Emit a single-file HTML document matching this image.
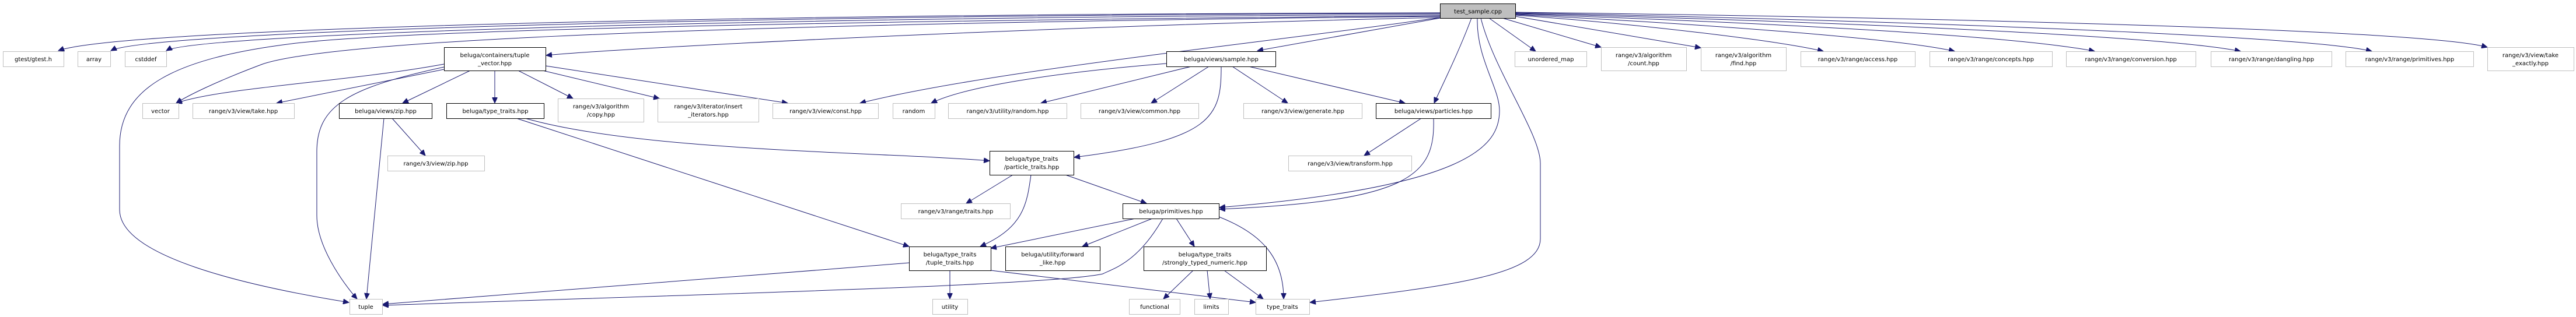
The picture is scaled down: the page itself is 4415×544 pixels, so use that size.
<!DOCTYPE html>
<html><head><meta charset="utf-8"><style>
html,body{margin:0;padding:0;background:#fff;}
svg{display:block}
text{font-family:"DejaVu Sans","Liberation Sans",sans-serif;font-size:10px;fill:#000}
.e{fill:none;stroke:#191970;stroke-width:1}
.x{fill:#fff;stroke:#bfbfbf}
.i{fill:#fff;stroke:#000}
</style></head><body>
<svg width="4415" height="544" viewBox="0 0 4415 544" xmlns="http://www.w3.org/2000/svg">
<defs><marker id="a" markerUnits="userSpaceOnUse" markerWidth="11" markerHeight="9" refX="10" refY="4.5" orient="auto"><path d="M0,0 L10,4.5 L0,9 Z" fill="#191970" stroke="#191970"/></marker></defs>
<g marker-end="url(#a)">
<path class="e" d="M2468,22 C1200,24 200,50 100,87"/>
<path class="e" d="M2468,23 C1200,26 250,55 190,87"/>
<path class="e" d="M2468,25 C1200,30 330,60 285,87"/>
<path class="e" d="M2468,27 C1500,35 700,50 500,75 C300,100 205,150 205,250 L205,360 C205,440 420,490 598,519"/>
<path class="e" d="M2468,28 C1500,38 600,60 450,110 C370,140 320,165 302,177"/>
<path class="e" d="M2468,30 C1800,45 1100,80 936,95"/>
<path class="e" d="M2468,30 C2200,70 1700,120 1474,177"/>
<path class="e" d="M2468,31 L2155,87"/>
<path class="e" d="M2522,31 C2500,90 2470,150 2458,177"/>
<path class="e" d="M2532,31 C2530,100 2570,150 2570,190 C2570,250 2520,320 2090,356"/>
<path class="e" d="M2538,31 C2560,120 2640,230 2640,280 L2640,410 C2640,470 2500,490 2245,519"/>
<path class="e" d="M2552,31 L2632,88"/>
<path class="e" d="M2575,31 L2744,81"/>
<path class="e" d="M2597,28 L2915,82"/>
<path class="e" d="M2597,26 C2800,40 3050,70 3125,88"/>
<path class="e" d="M2597,25 C2900,40 3250,65 3350,88"/>
<path class="e" d="M2597,24 C3000,38 3450,60 3590,88"/>
<path class="e" d="M2597,23 C3100,36 3700,60 3840,88"/>
<path class="e" d="M2597,22 C3200,34 3950,60 4065,88"/>
<path class="e" d="M2597,21 C3300,30 4150,50 4263,81"/>
<path class="e" d="M761,110 C600,140 380,150 302,177"/>
<path class="e" d="M761,119 L474,177"/>
<path class="e" d="M761,115 C600,150 543,180 543,260 L543,370 C543,430 600,500 612,513"/>
<path class="e" d="M806,121 L690,177"/>
<path class="e" d="M848,121 L848,177"/>
<path class="e" d="M888,121 L982,169"/>
<path class="e" d="M930,121 L1130,169"/>
<path class="e" d="M935,113 L1350,177"/>
<path class="e" d="M1999,109 C1800,125 1650,150 1596,177"/>
<path class="e" d="M2042,114 L1784,177"/>
<path class="e" d="M2072,114 L1973,177"/>
<path class="e" d="M2112,114 L2207,177"/>
<path class="e" d="M2140,114 L2408,177"/>
<path class="e" d="M2093,114 C2093,200 2080,240 1841,270"/>
<path class="e" d="M2436,203 L2338,267"/>
<path class="e" d="M2457,203 C2460,300 2420,345 2090,359"/>
<path class="e" d="M658,203 L628,513"/>
<path class="e" d="M672,203 L729,267"/>
<path class="e" d="M900,203 C1100,260 1500,260 1696,276"/>
<path class="e" d="M885,203 L1558,423"/>
<path class="e" d="M1736,300 L1656,349"/>
<path class="e" d="M1826,300 L1965,349"/>
<path class="e" d="M1767,300 C1760,350 1755,390 1680,423"/>
<path class="e" d="M1946,375 L1698,426"/>
<path class="e" d="M1975,375 L1855,423"/>
<path class="e" d="M2016,375 L2047,423"/>
<path class="e" d="M1993,375 C1950,450 1910,460 1890,470 C1800,490 1200,505 656,524"/>
<path class="e" d="M2089,372 C2160,400 2200,440 2200,513"/>
<path class="e" d="M1558,451 C1200,480 800,510 656,522"/>
<path class="e" d="M1628,464 L1628,513"/>
<path class="e" d="M1698,464 L2152,519"/>
<path class="e" d="M2045,464 L1994,513"/>
<path class="e" d="M2069,464 L2074,513"/>
<path class="e" d="M2098,464 L2165,513"/>
</g>
<!-- nodes -->
<rect x="2468.5" y="6.5" width="129" height="25" fill="#bfbfbf" stroke="#000"/><text x="2533" y="23" text-anchor="middle">test_sample.cpp</text>
<g text-anchor="middle">
<rect class="x" x="5.5" y="88.5" width="104" height="26"/><text x="57" y="105">gtest/gtest.h</text>
<rect class="x" x="133.5" y="88.5" width="56" height="26"/><text x="161" y="105">array</text>
<rect class="x" x="214.5" y="88.5" width="71" height="26"/><text x="250" y="105">cstddef</text>
<rect class="i" x="761.5" y="81.5" width="174" height="40"/><text x="848" y="98">beluga/containers/tuple</text><text x="848" y="112">_vector.hpp</text>
<rect class="i" x="1999.5" y="88.5" width="187" height="26"/><text x="2093" y="105">beluga/views/sample.hpp</text>
<rect class="x" x="2596.5" y="88.5" width="123" height="26"/><text x="2658" y="105">unordered_map</text>
<rect class="x" x="2744.5" y="81.5" width="146" height="40"/><text x="2817" y="98">range/v3/algorithm</text><text x="2817" y="112">/count.hpp</text>
<rect class="x" x="2915.5" y="81.5" width="146" height="40"/><text x="2988" y="98">range/v3/algorithm</text><text x="2988" y="112">/find.hpp</text>
<rect class="x" x="3086.5" y="88.5" width="196" height="26"/><text x="3184" y="105">range/v3/range/access.hpp</text>
<rect class="x" x="3307.5" y="88.5" width="210" height="26"/><text x="3412" y="105">range/v3/range/concepts.hpp</text>
<rect class="x" x="3541.5" y="88.5" width="222" height="26"/><text x="3652" y="105">range/v3/range/conversion.hpp</text>
<rect class="x" x="3789.5" y="88.5" width="207" height="26"/><text x="3893" y="105">range/v3/range/dangling.hpp</text>
<rect class="x" x="4020.5" y="88.5" width="219" height="26"/><text x="4130" y="105">range/v3/range/primitives.hpp</text>
<rect class="x" x="4263.5" y="81.5" width="148" height="40"/><text x="4337" y="98">range/v3/view/take</text><text x="4337" y="112">_exactly.hpp</text>
<rect class="x" x="244.5" y="177.5" width="62" height="26"/><text x="275" y="194">vector</text>
<rect class="x" x="330.5" y="177.5" width="174" height="26"/><text x="417" y="194">range/v3/view/take.hpp</text>
<rect class="i" x="581.5" y="177.5" width="159" height="26"/><text x="661" y="194">beluga/views/zip.hpp</text>
<rect class="i" x="765.5" y="177.5" width="167" height="26"/><text x="849" y="194">beluga/type_traits.hpp</text>
<rect class="x" x="956.5" y="169.5" width="147" height="40"/><text x="1030" y="186">range/v3/algorithm</text><text x="1030" y="200">/copy.hpp</text>
<rect class="x" x="1127.5" y="169.5" width="173" height="40"/><text x="1214" y="186">range/v3/iterator/insert</text><text x="1214" y="200">_iterators.hpp</text>
<rect class="x" x="1324.5" y="177.5" width="181" height="26"/><text x="1415" y="194">range/v3/view/const.hpp</text>
<rect class="x" x="1530.5" y="177.5" width="72" height="26"/><text x="1566" y="194">random</text>
<rect class="x" x="1625.5" y="177.5" width="203" height="26"/><text x="1727" y="194">range/v3/utility/random.hpp</text>
<rect class="x" x="1852.5" y="177.5" width="202" height="26"/><text x="1953" y="194">range/v3/view/common.hpp</text>
<rect class="x" x="2131.5" y="177.5" width="203" height="26"/><text x="2233" y="194">range/v3/view/generate.hpp</text>
<rect class="i" x="2358.5" y="177.5" width="197" height="26"/><text x="2457" y="194">beluga/views/particles.hpp</text>
<rect class="x" x="664.5" y="267.5" width="166" height="26"/><text x="747" y="284">range/v3/view/zip.hpp</text>
<rect class="x" x="2208.5" y="267.5" width="211" height="26"/><text x="2314" y="284">range/v3/view/transform.hpp</text>
<rect class="i" x="1696.5" y="259.5" width="144" height="41"/><text x="1768" y="276">beluga/type_traits</text><text x="1768" y="290">/particle_traits.hpp</text>
<rect class="x" x="1544.5" y="349.5" width="187" height="26"/><text x="1638" y="366">range/v3/range/traits.hpp</text>
<rect class="i" x="1924.5" y="349.5" width="165" height="26"/><text x="2007" y="366">beluga/primitives.hpp</text>
<rect class="i" x="1558.5" y="423.5" width="140" height="41"/><text x="1628" y="440">beluga/type_traits</text><text x="1628" y="454">/tuple_traits.hpp</text>
<rect class="i" x="1723.5" y="423.5" width="162" height="41"/><text x="1804" y="440">beluga/utility/forward</text><text x="1804" y="454">_like.hpp</text>
<rect class="i" x="1960.5" y="423.5" width="210" height="41"/><text x="2065" y="440">beluga/type_traits</text><text x="2065" y="454">/strongly_typed_numeric.hpp</text>
<rect class="x" x="599.5" y="513.5" width="56" height="26"/><text x="627" y="530">tuple</text>
<rect class="x" x="1598.5" y="513.5" width="60" height="26"/><text x="1628" y="530">utility</text>
<rect class="x" x="1935.5" y="513.5" width="87" height="26"/><text x="1979" y="530">functional</text>
<rect class="x" x="2047.5" y="513.5" width="58" height="26"/><text x="2076" y="530">limits</text>
<rect class="x" x="2152.5" y="513.5" width="92" height="26"/><text x="2198" y="530">type_traits</text>
</g>
</svg>
</body></html>
